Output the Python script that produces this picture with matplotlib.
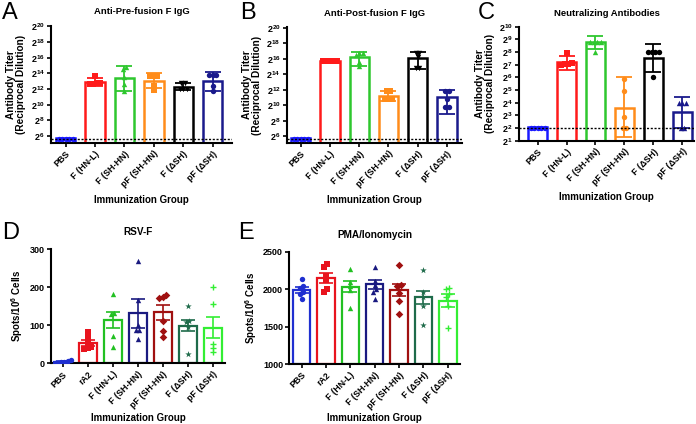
import numpy as np
import matplotlib
matplotlib.use('Agg')
import matplotlib.pyplot as plt

plt.rcParams['font.family'] = ['Liberation Sans', 'DejaVu Sans']
plt.rcParams['font.weight'] = 'bold'
plt.rcParams['mathtext.fontset'] = 'custom'
plt.rcParams['mathtext.bf'] = 'Liberation Sans:bold'
plt.rcParams['mathtext.rm'] = 'Liberation Sans:bold'
plt.rcParams['mathtext.default'] = 'bf'

# ---- top row: antibody titers (log2 values) ----
groups_top = ['PBS', 'F (HN-L)', 'F (SH-HN)', 'pF (SH-HN)', 'F (ΔSH)', 'pF (ΔSH)']
colors_top = ['#1a1aff', '#ff1a1a', '#2ec72e', '#ff8c1a', '#000000', '#1a1a8c']
markers_top_a = ['o', 's', '^', 's', 'v', 'o']
markers_top_c = ['o', 's', '^', 'o', 'o', '^']

pre_mean = [5.64, 12.88, 13.47, 13.05, 12.32, 13.05]
pre_lo = [5.64, 12.4, 11.8, 12.1, 11.9, 11.8]
pre_hi = [5.64, 13.4, 15.0, 14.0, 12.8, 14.15]
pre_pts = [[5.64] * 5,
           [13.6, 12.8, 12.8, 12.6, 12.6],
           [14.8, 14.6, 13.5, 12.6, 11.8],
           [13.7, 13.7, 13.7, 12.4, 11.9],
           [12.8, 12.8, 12.0, 12.0, 12.0],
           [13.8, 13.8, 13.8, 12.4, 11.7]]

post_mean = [5.64, 15.75, 16.26, 11.17, 16.05, 11.1]
post_lo = [5.64, 15.75, 15.07, 10.5, 14.7, 8.84]
post_hi = [5.64, 15.75, 16.82, 11.9, 16.8, 11.93]
post_pts = [[5.64] * 5,
            [15.75] * 5,
            [16.7, 16.7, 16.5, 15.6, 15.0],
            [11.9, 11.9, 10.75, 10.75, 10.75],
            [16.7, 16.7, 16.2, 14.8, 14.8],
            [11.9, 11.9, 10.8, 9.8, 9.8]]

neut_mean = [2.0, 7.18, 8.76, 3.55, 7.55, 3.21]
neut_lo = [2.0, 6.58, 8.24, 1.26, 6.45, 2.0]
neut_hi = [2.0, 7.7, 9.29, 6.0, 8.66, 4.47]
neut_pts = [[2.0] * 5,
            [7.95, 7.15, 7.05, 7.05, 7.0],
            [8.76, 8.76, 8.76, 8.76, 7.97],
            [5.87, 4.95, 2.9, 2.0, 2.0],
            [7.97, 7.97, 7.97, 7.97, 6.0],
            [4.0, 4.0, 4.0, 2.0, 2.0]]

lod_elisa = 5.64
lod_neut = 2.0

# ---- bottom row: ELISPOT ----
groups_bot = ['PBS', 'rA2', 'F (HN-L)', 'F (SH-HN)', 'pF (SH-HN)', 'F (ΔSH)', 'pF (ΔSH)']
colors_bot = ['#1f2fd0', '#e8141e', '#22c022', '#1a1a80', '#a01010', '#1e6b4a', '#33ee33']
markers_bot = ['o', 's', '^', '^', 'D', '*', '+']

rsv_mean = [4, 54, 113, 132, 134, 99, 94]
rsv_sem = [1.5, 7, 21, 38, 19, 15, 28]
rsv_pts = [[5, 3, 0, 8, 2, 6],
           [82, 68, 55, 40, 38, 42],
           [181, 133, 130, 72, 42],
           [269, 167, 100, 88, 88, 65],
           [180, 172, 175, 112, 85, 70],
           [150, 112, 108, 95, 25],
           [200, 157, 50, 40, 30]]

pma_mean = [1989, 2145, 2033, 2065, 1989, 1892, 1847]
pma_sem = [44, 66, 70, 60, 85, 85, 88]
pma_pts = [[2130, 2040, 2010, 1960, 1870, 1930],
           [2330, 2300, 2170, 2120, 2000, 1960],
           [2270, 2090, 2040, 1990, 1750],
           [2290, 2110, 2060, 2000, 1870, 1960],
           [2320, 2060, 2040, 1950, 1840, 1670],
           [2260, 1960, 1900, 1780, 1520],
           [2010, 2000, 1930, 1900, 1770, 1480]]


def swarm(vals, thresh, dx):
    # spread points with close values side by side
    vals = np.asarray(vals, dtype=float)
    order = np.argsort(vals)
    offs = np.zeros(len(vals))
    clusters = []
    for i in order:
        if clusters and abs(vals[i] - vals[clusters[-1][-1]]) <= thresh:
            clusters[-1].append(i)
        else:
            clusters.append([i])
    for c in clusters:
        n = len(c)
        for k, i in enumerate(c):
            offs[i] = (k - (n - 1) / 2) * dx
    return offs


def style_axes(ax):
    ax.spines['top'].set_visible(False)
    ax.spines['right'].set_visible(False)
    ax.spines['left'].set_linewidth(1.5)
    ax.spines['bottom'].set_linewidth(1.5)
    ax.tick_params(axis='both', direction='out', length=3, width=1.2, pad=1.5)
    ax.tick_params(axis='y', labelsize=6.5)
    ax.tick_params(axis='x', labelsize=6.4)
    ax.tick_params(axis='y', which='minor', left=False)


def titer_panel(ax, means, lo, hi, pts, markers, lod, ylim, yticks, xlim, title, step):
    x = np.arange(len(groups_top))
    for i in x:
        c = colors_top[i]
        ax.bar(i, 2.0 ** means[i], width=0.66, bottom=2.0 ** (ylim[0] - 3),
               facecolor='white', edgecolor=c, linewidth=1.8, zorder=2)
        ax.errorbar(i, 2.0 ** means[i],
                    yerr=[[2.0 ** means[i] - 2.0 ** lo[i]], [2.0 ** hi[i] - 2.0 ** means[i]]],
                    color=c, capsize=5.5, capthick=1.3, elinewidth=1.3, zorder=3)
        offs = swarm(pts[i], step, 0.12)
        ax.scatter(i + offs, 2.0 ** np.array(pts[i]), marker=markers[i], s=15,
                   color=c, zorder=4, linewidths=0)
    ax.axhline(2.0 ** lod, color='black', linestyle=(0, (1.5, 1.2)), linewidth=1, zorder=5)
    ax.set_yscale('log', base=2)
    ax.set_ylim(2.0 ** ylim[0], 2.0 ** ylim[1])
    ax.set_yticks([2.0 ** k for k in yticks])
    ax.set_yticklabels([r'$\mathbf{2^{%d}}$' % k for k in yticks])
    ax.set_xlim(*xlim)
    ax.set_xticks(x)
    ax.set_xticklabels(groups_top, rotation=45, ha='right', rotation_mode='anchor')
    ax.set_title(title, fontsize=6.8, fontweight='bold', y=1.12, va='center', pad=0)
    ax.set_xlabel('Immunization Group', fontsize=7, fontweight='bold')
    ax.xaxis.set_label_coords(0.5, -0.45)
    ax.set_ylabel('Antibody Titer\n(Reciprocal Dilution)', fontsize=7.3, fontweight='bold',
                  labelpad=3, linespacing=1.0)
    style_axes(ax)


def spot_panel(ax, means, sem, pts, ylim, yticks, xlim, title, step):
    x = np.arange(len(groups_bot))
    for i in x:
        c = colors_bot[i]
        ax.bar(i, means[i] - ylim[0], width=0.72, bottom=ylim[0],
               facecolor='white', edgecolor=c, linewidth=1.6, zorder=2)
        offs = swarm(pts[i], step, 0.13)
        m = markers_bot[i]
        if m == '+':
            ax.scatter(i + offs, pts[i], marker='+', s=20, color=c, zorder=4, linewidths=1.0)
        else:
            ax.scatter(i + offs, pts[i], marker=m, s=24 if m == '*' else 15,
                       color=c, zorder=4, linewidths=0)
        ax.errorbar(i, means[i], yerr=sem[i], color=c, capsize=5, capthick=1.2,
                    elinewidth=1.2, zorder=3)
    ax.set_ylim(*ylim)
    ax.set_yticks(yticks)
    ax.set_xlim(*xlim)
    ax.set_xticks(x)
    ax.set_xticklabels(groups_bot, rotation=45, ha='right', rotation_mode='anchor')
    ax.set_title(title, fontsize=7.2, fontweight='bold', y=1.15, va='center', pad=0)
    ax.set_xlabel('Immunization Group', fontsize=7, fontweight='bold')
    ax.xaxis.set_label_coords(0.5, -0.43)
    ax.set_ylabel(r'Spots/10$^{6}$ Cells', fontsize=7, fontweight='bold', labelpad=3)
    style_axes(ax)


fig = plt.figure(figsize=(6.96, 4.24), dpi=100)

axA = fig.add_axes([0.0733, 0.663, 0.260, 0.2757])
axB = fig.add_axes([0.412, 0.663, 0.252, 0.2727])
axC = fig.add_axes([0.7457, 0.668, 0.2514, 0.2689])
axD = fig.add_axes([0.0733, 0.1427, 0.250, 0.270])
axE = fig.add_axes([0.4157, 0.1408, 0.2453, 0.2656])

titer_panel(axA, pre_mean, pre_lo, pre_hi, pre_pts, markers_top_a, lod_elisa,
            (5.12, 20.05), list(range(6, 21, 2)), (-0.5, 5.66), 'Anti-Pre-fusion F IgG', 0.3)
titer_panel(axB, post_mean, post_lo, post_hi, post_pts, markers_top_a, lod_elisa,
            (5.15, 20.05), list(range(6, 21, 2)), (-0.48, 5.52), 'Anti-Post-fusion F IgG', 0.3)
titer_panel(axC, neut_mean, neut_lo, neut_hi, neut_pts, markers_top_c, lod_neut,
            (1.0, 10.0), list(range(1, 11)), (-0.64, 5.4), 'Neutralizing Antibodies', 0.2)

spot_panel(axD, rsv_mean, rsv_sem, rsv_pts, (0, 300), [0, 100, 200, 300], (-0.47, 6.5), 'RSV-F', 8)
spot_panel(axE, pma_mean, pma_sem, pma_pts, (1000, 2500), [1000, 1500, 2000, 2500], (-0.5, 6.5),
           'PMA/Ionomycin', 40)

for lab, (px, py) in zip('ABCDE', [(2, 2), (240, 2), (478, 2), (2, 222), (238, 222)]):
    fig.text(px / 696, 1 - py / 424, lab, fontsize=17, fontweight='normal', va='top', ha='left')

fig.savefig('out.png', dpi=100)
